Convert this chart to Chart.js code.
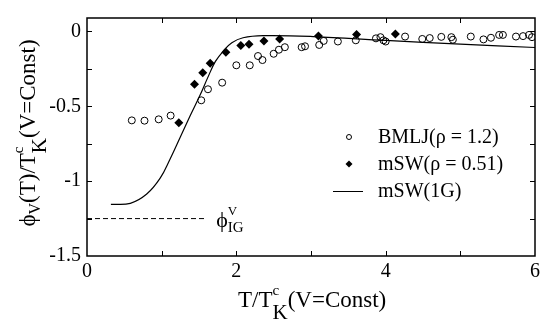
<!DOCTYPE html>
<html>
<head>
<meta charset="utf-8">
<script src="https://cdn.jsdelivr.net/npm/chart.js@4.4.1/dist/chart.umd.min.js"></script>
<style>
  body { margin: 0; background: #fff; }
</style>
</head>
<body>
<canvas id="chart" width="555" height="320"></canvas>
<script>
// BMLJ (rho = 1.2), open circles
const bmljX = [0.60, 0.77, 0.96, 1.12, 1.53, 1.62, 1.81, 2.00, 2.18, 2.29, 2.35, 2.50, 2.57, 2.65, 2.875, 2.92, 3.11, 3.17, 3.36, 3.60,
  3.87, 3.93, 3.97, 4.00, 4.26, 4.49, 4.59, 4.745, 4.88, 4.90, 5.14, 5.31, 5.41, 5.52, 5.57, 5.745, 5.84, 5.92, 5.96];
const bmljY = [-0.594, -0.596, -0.587, -0.562, -0.46, -0.386, -0.342, -0.226, -0.226, -0.164, -0.191, -0.149, -0.122, -0.105, -0.105, -0.099, -0.09, -0.063, -0.067, -0.059,
  -0.046, -0.038, -0.059, -0.067, -0.034, -0.05, -0.044, -0.036, -0.038, -0.055, -0.034, -0.053, -0.042, -0.023, -0.023, -0.034, -0.031, -0.023, -0.038];

// mSW (rho = 0.51), filled diamonds
const mswX = [1.23, 1.44, 1.55, 1.65, 1.86, 2.06, 2.17, 2.37, 2.58, 3.10, 3.61, 4.13];
const mswY = [-0.61, -0.352, -0.275, -0.212, -0.138, -0.094, -0.086, -0.063, -0.05, -0.031, -0.021, -0.017];

// mSW (1G), solid curve
const oneGX = [0.32, 0.58, 0.80, 0.98, 1.11, 1.25, 1.38, 1.51, 1.62, 1.72, 1.83, 1.94, 2.09, 2.36, 3.03, 4.0, 5.0, 6.0];
const oneGY = [-1.155, -1.148, -1.086, -0.98, -0.855, -0.705, -0.565, -0.43, -0.305, -0.2, -0.128, -0.075, -0.042, -0.028, -0.034, -0.06, -0.085, -0.107];

// ideal gas level, dashed
const igX = [0, 1.6];
const igY = [-1.25, -1.25];

// ticks
const xTicks = [0, 2, 4, 6];
const yTicks = [0, -0.5, -1, -1.5];
const xMinor = [1, 2, 3, 4, 5];
const yMinor = [-1.25, -1, -0.75, -0.5, -0.25, 0];

const FONT = '"Liberation Serif", "DejaVu Serif", serif';

function pts(xs, ys) {
  return xs.map((x, i) => ({ x: x, y: ys[i] }));
}

// text pieces: [text, size, dy, stackWithNext]
function richWidth(ctx, parts) {
  let w = 0;
  for (let i = 0; i < parts.length; i++) {
    let p = parts[i];
    ctx.font = p[1] + 'px ' + FONT;
    let pw = ctx.measureText(p[0]).width;
    if (p[3]) {
      let q = parts[i + 1];
      ctx.font = q[1] + 'px ' + FONT;
      pw = Math.max(pw, ctx.measureText(q[0]).width);
      i++;
    }
    w += pw;
  }
  return w;
}

function drawRich(ctx, parts, x, y) {
  let cx = x;
  for (let i = 0; i < parts.length; i++) {
    let p = parts[i];
    ctx.font = p[1] + 'px ' + FONT;
    ctx.fillText(p[0], cx, y + p[2]);
    let pw = ctx.measureText(p[0]).width;
    if (p[3]) {
      let q = parts[i + 1];
      ctx.font = q[1] + 'px ' + FONT;
      ctx.fillText(q[0], cx, y + q[2]);
      pw = Math.max(pw, ctx.measureText(q[0]).width);
      i++;
    }
    cx += pw;
  }
}

const decor = {
  id: 'decor',
  afterDraw(chart) {
    const ctx = chart.ctx;
    const a = chart.chartArea;
    const xs = chart.scales.x, ys = chart.scales.y;
    ctx.save();
    ctx.strokeStyle = '#000';
    ctx.fillStyle = '#000';

    // frame
    ctx.lineWidth = 1.5;
    ctx.strokeRect(a.left, a.top, a.right - a.left, a.bottom - a.top);

    // inward ticks on all four sides
    ctx.lineWidth = 1;
    ctx.beginPath();
    xMinor.forEach(v => {
      let px = Math.round(xs.getPixelForValue(v)) + 0.5;
      ctx.moveTo(px, a.bottom); ctx.lineTo(px, a.bottom - 5);
      ctx.moveTo(px, a.top); ctx.lineTo(px, a.top + 5);
    });
    yMinor.forEach(v => {
      let py = Math.round(ys.getPixelForValue(v)) + 0.5;
      ctx.moveTo(a.left, py); ctx.lineTo(a.left + 5, py);
      ctx.moveTo(a.right, py); ctx.lineTo(a.right - 5, py);
    });
    ctx.stroke();

    ctx.textBaseline = 'alphabetic';
    ctx.textAlign = 'left';

    // x axis title
    let xt = [['T/T', 23, 0], ['c', 15, -12, true], ['K', 21, 12], ['(V=Const)', 23, 0]];
    let w = richWidth(ctx, xt);
    drawRich(ctx, xt, 238, 307);

    // y axis title
    let yt = [['\u03d5', 23, 0], ['V', 16, 5], ['(T)/T', 23, 0], ['c', 15, -12, true], ['K', 21, 11], ['(V=Const)', 23, 0]];
    ctx.save();
    ctx.translate(35, 133);
    ctx.rotate(-Math.PI / 2);
    w = richWidth(ctx, yt);
    drawRich(ctx, yt, -w / 2, 0);
    ctx.restore();

    // ideal gas label
    let ig = [['\u03d5', 22, 0], ['V', 13, -12, true], ['IG', 15, 5]];
    drawRich(ctx, ig, xs.getPixelForValue(1.73), ys.getPixelForValue(-1.25) + 8);

    // legend
    ctx.font = '20px ' + FONT;
    ctx.textBaseline = 'middle';
    const lx = 349, tx = 378;
    const rows = [137, 164, 191];
    chart.data.datasets.slice(0, 3).forEach((ds, i) => {
      let y = rows[i];
      if (i === 0) {
        ctx.beginPath(); ctx.arc(lx, y, 2.5, 0, Math.PI * 2); ctx.stroke();
      } else if (i === 1) {
        ctx.beginPath();
        ctx.moveTo(lx, y - 3.5); ctx.lineTo(lx + 3.5, y); ctx.lineTo(lx, y + 3.5); ctx.lineTo(lx - 3.5, y);
        ctx.closePath(); ctx.fill();
      } else {
        ctx.beginPath(); ctx.moveTo(333, y + 0.5); ctx.lineTo(363, y + 0.5); ctx.stroke();
      }
      ctx.fillText(ds.label, tx, y + 1);
    });
    ctx.restore();
  }
};

new Chart(document.getElementById('chart'), {
  type: 'scatter',
  data: {
    datasets: [
      {
        label: 'BMLJ(\u03c1 = 1.2)',
        data: pts(bmljX, bmljY),
        pointStyle: 'circle',
        pointRadius: 3.5,
        borderColor: '#000',
        backgroundColor: 'rgba(255,255,255,0)',
        borderWidth: 1
      },
      {
        label: 'mSW(\u03c1 = 0.51)',
        data: pts(mswX, mswY),
        pointStyle: 'rectRot',
        pointRadius: 4.5,
        borderColor: '#000',
        backgroundColor: '#000',
        borderWidth: 0
      },
      {
        label: 'mSW(1G)',
        data: pts(oneGX, oneGY),
        showLine: true,
        pointRadius: 0,
        borderColor: '#000',
        borderWidth: 1.2,
        tension: 0.4
      },
      {
        label: 'IG',
        data: pts(igX, igY),
        showLine: true,
        pointRadius: 0,
        borderColor: '#000',
        borderWidth: 1,
        borderDash: [5, 3]
      }
    ]
  },
  options: {
    responsive: false,
    animation: false,
    layout: { padding: { left: 0, right: 20, top: 3, bottom: 0 } },
    plugins: { legend: { display: false }, tooltip: { enabled: false } },
    scales: {
      x: {
        type: 'linear',
        min: 0,
        max: 6,
        afterBuildTicks: s => { s.ticks = xTicks.map(v => ({ value: v })); },
        afterFit: s => { s.height = 64; },
        grid: { display: false, drawTicks: false },
        border: { display: false },
        ticks: {
          autoSkip: false,
          maxRotation: 0,
          padding: 4,
          color: '#000',
          font: { family: FONT, size: 20 },
          callback: v => String(v)
        }
      },
      y: {
        type: 'linear',
        min: -1.5,
        max: 0.09,
        afterBuildTicks: s => { s.ticks = yTicks.map(v => ({ value: v })); },
        afterFit: s => { s.width = 87; },
        grid: { display: false, drawTicks: false },
        border: { display: false },
        ticks: {
          autoSkip: false,
          padding: 6,
          color: '#000',
          font: { family: FONT, size: 20 },
          callback: v => String(v)
        }
      }
    }
  },
  plugins: [decor]
});
</script>
</body>
</html>
